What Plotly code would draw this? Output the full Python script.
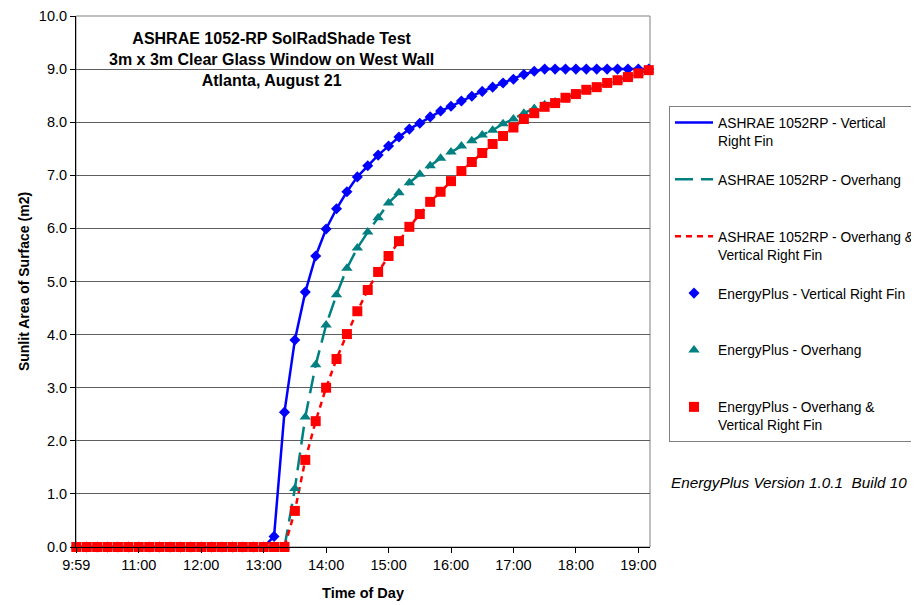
import plotly.graph_objects as go

# ---- data (10-minute samples) ----
times = ["9:59"] + [f"{h}:{m:02d}" for h in range(10, 20) for m in range(0, 60, 10)][1:56]
tick_labels = ["9:59", "11:00", "12:00", "13:00", "14:00", "15:00", "16:00", "17:00", "18:00", "19:00"]

ep_fin = [0.0]*19 + [0.2, 2.54, 3.9, 4.8, 5.48, 5.99, 6.37, 6.69, 6.97, 7.18, 7.38, 7.55, 7.72,
                     7.87, 7.98, 8.1, 8.21, 8.3, 8.4, 8.49, 8.58, 8.66, 8.74, 8.81, 8.9, 8.96,
                     9.0, 9.0, 9.0, 9.0, 9.0, 9.0, 9.0, 9.0, 9.0, 9.0, 9.0]
ep_overhang = [0.0]*21 + [1.1, 2.45, 3.43, 4.18, 4.75, 5.25, 5.63, 5.93, 6.2, 6.48, 6.67, 6.86,
                          7.02, 7.18, 7.32, 7.44, 7.55, 7.65, 7.76, 7.85, 7.97, 8.06, 8.17, 8.26,
                          8.33, 8.38, 8.46, 8.53, 8.61, 8.66, 8.74, 8.79, 8.85, 8.92, 8.98]
ep_both = [0.0]*21 + [0.68, 1.64, 2.37, 3.0, 3.54, 4.01, 4.44, 4.84, 5.18, 5.48, 5.76, 6.03,
                      6.27, 6.5, 6.69, 6.89, 7.08, 7.25, 7.42, 7.59, 7.74, 7.9, 8.06, 8.17,
                      8.29, 8.36, 8.46, 8.53, 8.61, 8.66, 8.74, 8.79, 8.85, 8.92, 8.98]
ashrae_fin = list(ep_fin)
ashrae_overhang = list(ep_overhang)
ashrae_both = list(ep_both)

FONT = "Liberation Sans, Arial, sans-serif"
BLUE, TEAL, RED = "#0000FF", "#008080", "#FF0000"
PAD = "<br>&nbsp;"

# page body has an 8px margin, so the figure is 8px smaller and shifted
W, H = 911, 597
L, R, T, B = 68, 269, 8, 58
PW, PH = W - L - R, H - T - B


def px_x(x):
    return (x - 8 - L) / PW


def px_y(y):
    return (H - B - (y - 8)) / PH


fig = go.Figure()
fig.add_trace(go.Scatter(x=times, y=ashrae_fin, mode="lines", name="ASHRAE 1052RP - Vertical<br>Right Fin",
                         line=dict(color=BLUE, width=2.5), legendgroup="a", cliponaxis=False))
fig.add_trace(go.Scatter(x=times, y=ashrae_overhang, mode="lines", name="ASHRAE 1052RP - Overhang" + PAD,
                         line=dict(color=TEAL, width=2.5, dash="18px,8px"), legendgroup="b", cliponaxis=False))
fig.add_trace(go.Scatter(x=times, y=ashrae_both, mode="lines", name="ASHRAE 1052RP - Overhang &<br>Vertical Right Fin",
                         line=dict(color=RED, width=2.5, dash="6px,5px"), legendgroup="c", cliponaxis=False))
fig.add_trace(go.Scatter(x=times, y=ep_fin, mode="markers", name="EnergyPlus - Vertical Right Fin" + PAD,
                         marker=dict(symbol="diamond", size=8.5, color=BLUE, line=dict(width=0)),
                         legendgroup="d", cliponaxis=False))
fig.add_trace(go.Scatter(x=times, y=ep_overhang, mode="markers", name="EnergyPlus - Overhang" + PAD,
                         marker=dict(symbol="triangle-up", size=10, color=TEAL, line=dict(width=0)),
                         legendgroup="e", cliponaxis=False))
fig.add_trace(go.Scatter(x=times, y=ep_both, mode="markers", name="EnergyPlus - Overhang &<br>Vertical Right Fin",
                         marker=dict(symbol="square", size=10, color=RED, line=dict(width=0)),
                         legendgroup="f", cliponaxis=False))

fig.update_layout(
    width=W, height=H,
    margin=dict(l=L, r=R, t=T, b=B, autoexpand=False),
    paper_bgcolor="white", plot_bgcolor="white",
    font=dict(family=FONT, size=14, color="black"),
    showlegend=True,
    legend=dict(x=px_x(669), xanchor="left", y=px_y(106), yanchor="top",
                bordercolor="#808080", borderwidth=1, bgcolor="white",
                font=dict(family=FONT, size=13.8, color="black"),
                traceorder="grouped", tracegroupgap=18, valign="top", itemwidth=38),
    xaxis=dict(type="category", range=[-0.03, 55.12], tickmode="array", tickvals=tick_labels,
               ticktext=tick_labels, ticks="outside", ticklen=5, tickcolor="black",
               showline=True, linecolor="black", linewidth=1, showgrid=False, zeroline=False,
               automargin=False,
               tickfont=dict(size=14.5), title=dict(text="<b>Time of Day</b>", font=dict(size=14.5), standoff=15)),
    yaxis=dict(range=[0, 10], dtick=1, tickformat=".1f", ticks="outside", ticklen=5, tickcolor="black",
               showline=True, linecolor="black", linewidth=1, showgrid=True, gridcolor="#5e5e5e", gridwidth=1,
               zeroline=False, tickfont=dict(size=14.5), automargin=False,
               title=dict(text="<b>Sunlit Area of Surface (m2)</b>", font=dict(size=14), standoff=5)),
    shapes=[dict(type="rect", xref="paper", yref="paper", x0=0, x1=1, y0=0, y1=1,
                 line=dict(color="#808080", width=1), layer="below")],
    annotations=[
        dict(text="<b>ASHRAE 1052-RP SolRadShade Test<br>3m x 3m Clear Glass Window on West Wall<br>Atlanta, August 21</b>",
             xref="paper", yref="paper", x=px_x(271), y=px_y(60), xanchor="center", yanchor="middle",
             showarrow=False, align="center", font=dict(size=16, family=FONT, color="black")),
        dict(text="<i>EnergyPlus Version 1.0.1&nbsp; Build 10</i>", xref="paper", yref="paper",
             x=px_x(669), y=px_y(482), xanchor="left", yanchor="middle", showarrow=False,
             font=dict(size=15.3, family=FONT, color="black")),
    ],
)

fig.write_html("out.html")
